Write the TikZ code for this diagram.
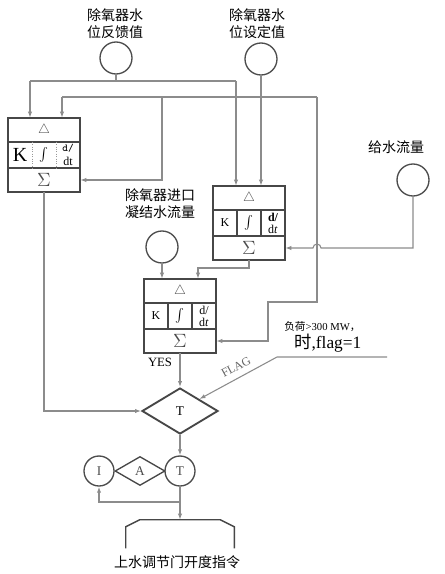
\documentclass[tikz,border=0pt]{standalone}
\usepackage{fontspec}
\setmainfont{Liberation Serif}
\newfontfamily\cjk{Noto Sans CJK SC}
\usetikzlibrary{arrows.meta, shapes.geometric, positioning}

\begin{document}
\begin{tikzpicture}[
    x=0.75pt, y=-0.75pt,
    >={Latex[length=4.5pt,width=3.2pt]},
    wire/.style={draw=black!45, line width=0.8pt},
    feed/.style={wire, ->},
    boxline/.style={draw=black!72, line width=1.4pt},
    divdot/.style={draw=black!40, line width=0.8pt, densely dotted},
    rowcell/.style={rectangle, inner sep=0pt, minimum width=54pt, minimum height=18pt, text=black!70},
    sumcell/.style={rowcell, font=\fontsize{15}{15}\selectfont},
    kcell/.style={rectangle, inner sep=0pt, minimum width=18pt, minimum height=19.5pt, align=center, font=\small},
    src/.style={circle, draw=black!70, line width=1pt, minimum size=24pt, inner sep=0pt},
    gate/.style={circle, draw=black!70, line width=1pt, minimum size=22.5pt, inner sep=0pt, text=black!70},
    cnlab/.style={font=\cjk\fontsize{10.5}{12.75}\selectfont, align=center, inner sep=0pt},
  ]
  \useasboundingbox[fill=white] (0,0) rectangle (445,574);

  % signal sources
  \node[src] (fb) at (116,58) {};
  \node[src] (sp) at (261,59) {};
  \node[src] (fw) at (413,180) {};
  \node[src] (cw) at (162,247) {};
  \node[cnlab] (fblab) at (115,24) {除氧器水\\位反馈值};
  \node[cnlab] (splab) at (257,24) {除氧器水\\位设定值};
  \node[cnlab] (fwlab) at (396,147) {给水流量};
  \node[cnlab] (cwlab) at (160,204) {除氧器进口\\凝结水流量};

  % PID box 1
  \node[rowcell] (b1d) at (44,130) {$\triangle$};
  \node[kcell] (b1k) at (20,155) {\fontsize{15}{15}\selectfont K};
  \node[kcell] (b1i) at (44,155) {$\int$};
  \node[kcell] (b1t) at (68,155) {\ttfamily\footnotesize d/\\[-1pt]dt};
  \node[sumcell] (b1s) at (44,180) {$\Sigma$};
  \draw[boxline] (b1d.north west) rectangle (b1s.south east);
  \draw[boxline] (b1d.south west) -- (b1d.south east) (b1s.north west) -- (b1s.north east);
  \draw[divdot] (b1k.north east) -- (b1k.south east) (b1i.north east) -- (b1i.south east);

  % PID box 2
  \node[rowcell] (b2d) at (249,198) {$\triangle$};
  \node[kcell] (b2k) at (225,223) {K};
  \node[kcell] (b2i) at (249,223) {$\int$};
  \node[kcell] (b2t) at (273,223) {\bfseries d/\\[-2pt]d\textit{t}};
  \node[sumcell] (b2s) at (249,248) {$\Sigma$};
  \draw[boxline] (b2d.north west) rectangle (b2s.south east);
  \draw[boxline] (b2d.south west) -- (b2d.south east) (b2s.north west) -- (b2s.north east);
  \draw[boxline] (b2k.north east) -- (b2k.south east) (b2i.north east) -- (b2i.south east);

  % PID box 3
  \node[rowcell] (b3d) at (180,291) {$\triangle$};
  \node[kcell] (b3k) at (156,316) {K};
  \node[kcell] (b3i) at (180,316) {$\int$};
  \node[kcell] (b3t) at (204,316) {d/\\[-2pt]d\textit{t}};
  \node[sumcell] (b3s) at (180,341) {$\Sigma$};
  \draw[boxline] (b3d.north west) rectangle (b3s.south east);
  \draw[boxline] (b3d.south west) -- (b3d.south east) (b3s.north west) -- (b3s.north east);
  \draw[boxline] (b3k.north east) -- (b3k.south east) (b3i.north east) -- (b3i.south east);

  % selector and output
  \node[diamond, draw=black!72, line width=1.4pt, minimum width=57pt, minimum height=34.5pt, inner sep=0pt] (dT) at (180,411) {T};
  \node[gate] (gI) at (99,471) {I};
  \node[diamond, draw=black!72, line width=1pt, minimum width=37.5pt, minimum height=21.75pt, inner sep=0pt, text=black!70] (gA) at (140,471) {A};
  \node[gate] (tT) at (180,471) {T};
  \node[rectangle, minimum width=81pt, minimum height=21pt] (out) at (180,534) {};
  \draw[boxline, line width=1.1pt] (out.south west) -- ([yshift=-5.25pt]out.north west) -- ([xshift=10.5pt]out.north west)
    -- ([xshift=-10.5pt]out.north east) -- ([yshift=-5.25pt]out.north east) -- (out.south east);
  \node[cnlab] (outlab) at (177,562) {上水调节门开度指令};

  % texts
  \node[font=\fontsize{9.5}{10}\selectfont] (yes) at (160,362) {YES};
  \node[font=\fontsize{9}{10}\selectfont, text=black!60, rotate=28.6, inner sep=0pt] (flag) at (236,367) {FLAG};
  \node[font=\fontsize{8}{9}\selectfont, anchor=west, inner sep=0pt] (load) at (284,327) {{\cjk 负荷}>300 MW{\cjk ，}};
  \node[font=\fontsize{13}{14}\selectfont, anchor=west, inner sep=0pt] (flagset) at (294,343) {{\cjk 时},flag=1};

  % junctions
  \coordinate (j1) at (116,81);
  \coordinate (j1l) at (30,81);
  \coordinate (j1r) at (236,81);
  \coordinate (j2l) at (62,97);
  \coordinate (j2m) at (162,97);
  \coordinate (j2r) at (317,97);
  \coordinate (j3) at (317,302);
  \coordinate (j4) at (268,302);
  \coordinate (hop) at (321,248);
  \coordinate (j5) at (249,268);
  \coordinate (j6) at (198,268);
  \coordinate (fl1) at (387,357);
  \coordinate (fl2) at (277,357);
  \coordinate (j7) at (180,502);

  % connectors
  \draw[wire] (fb) -- (j1);
  \draw[wire] (j1l) -- (j1r);
  \draw[feed] (j1l) -- (j1l |- b1d.north);
  \draw[feed] (j1r) -- (j1r |- b2d.north);
  \draw[feed] (sp) -- (sp |- b2d.north);
  \draw[wire] (j2l) -- (j2r);
  \draw[feed] (j2l) -- (j2l |- b1d.north);
  \draw[feed] (j2m) |- (b1s.east);
  \draw[feed] (j2r) -- (j3) -- (j4) |- (b3s.east);
  \draw[feed] (fw) |- (hop) arc[start angle=0, end angle=180, radius=3pt] -- (b2s.east);
  \draw[feed] (cw) -- (cw |- b3d.north);
  \draw[feed] (b2s.south) -- (j5) -- (j6) -- (j6 |- b3d.north);
  \draw[feed] (b1s.south) |- (dT.west);
  \draw[feed] (b3s.south) -- (dT.north);
  \draw[feed] (fl1) -- (fl2) -- (dT.north east);
  \draw[feed] (dT.south) -- (tT.north);
  \draw[wire] (tT.south) -- (j7);
  \draw[feed] (j7) -| (gI.south);
  \draw[feed] (j7) -- (out.north);
\end{tikzpicture}
\end{document}
